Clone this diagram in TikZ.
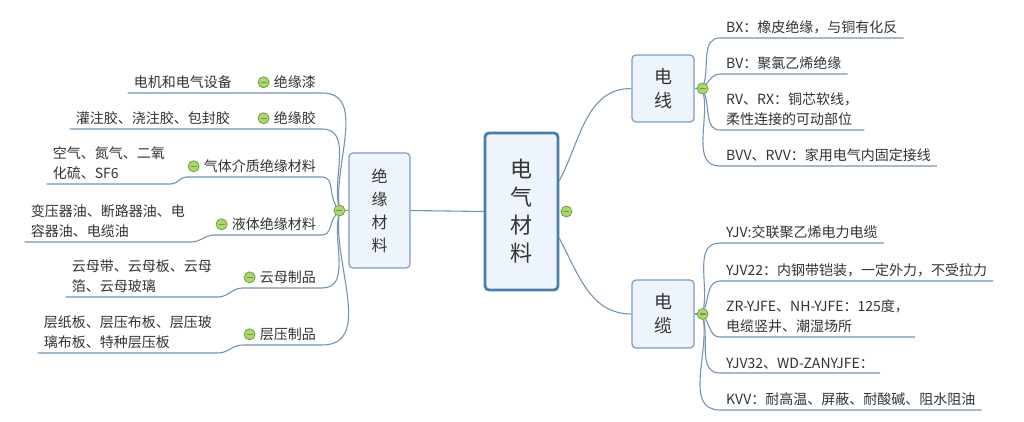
\documentclass[tikz,border=0pt]{standalone}
\usepackage{fontspec}
\setmainfont{Noto Sans CJK SC}
\usetikzlibrary{positioning,calc}
\definecolor{linkblue}{HTML}{7594B4}
\definecolor{frame}{HTML}{4A7EAB}
\definecolor{edge}{HTML}{7D9DC0}
\definecolor{paper}{HTML}{EEF4FB}
\definecolor{ink}{HTML}{333333}
\definecolor{leafgreen}{HTML}{AED573}
\definecolor{darkgreen}{HTML}{6E9F35}

\begin{document}
\begin{tikzpicture}[x=1pt,y=-1pt,
  root/.style={draw=frame,line width=2.8pt,rounded corners=4pt,fill=paper,
    minimum width=73pt,minimum height=157pt,align=center,text=ink,
    font=\fontsize{22}{28}\selectfont},
  topic/.style={draw=edge,line width=1.2pt,rounded corners=4pt,fill=paper,
    align=center,text=ink},
  leaf/.style={text=ink,align=left,inner xsep=6pt,inner ysep=4pt,
    font=\fontsize{14}{20}\selectfont},
  branch/.style={draw=linkblue,line width=1.1pt},
  fold/.style={circle,draw=darkgreen,fill=leafgreen,line width=0.8pt,
    minimum size=11pt,inner sep=0pt,
    path picture={\draw[darkgreen,line width=1.1pt]
      ([xshift=-3pt]path picture bounding box.center) --
      ([xshift=3pt]path picture bounding box.center);}}]
\path[use as bounding box,fill=white] (0,0) rectangle (1024,422);

% main boxes
\node[root] (main) at (521.5,211.5) {电\\气\\材\\料};
\node[topic,minimum width=61pt,minimum height=115pt,
  font=\fontsize{16}{23}\selectfont] (ins) at (379.5,210.5) {绝\\缘\\材\\料};
\node[topic,minimum width=62pt,minimum height=67pt,
  font=\fontsize{18}{24}\selectfont] (wire) at (663,88.5) {电\\线};
\node[topic,minimum width=62pt,minimum height=68pt,
  font=\fontsize{18}{24}\selectfont] (cable) at (663,314) {电\\缆};

\node[fold] (mfold) at ([xshift=7pt]main.east) {};
\node[fold] (ifold) at ([xshift=-9pt]ins.west) {};
\node[fold] (wfold) at ([xshift=8pt]wire.east) {};
\node[fold] (cfold) at ([xshift=8pt]cable.east) {};

\draw[branch] (ins.east) -- (main.west);
\draw[branch] ([yshift=31pt]main.east) to[out=62,in=180] (wire.west);
\draw[branch] ([yshift=-27pt]main.east) to[out=-62,in=180] (cable.west);
\draw[branch] (wire.east) -- (wfold);
\draw[branch] (cable.east) -- (cfold);
\draw[branch] (ins.west) -- (ifold);

% wires
\node[leaf,anchor=south west] (bx) at (720,38) {BX：橡皮绝缘，与铜有化反};
\node[leaf,anchor=south west] (bv) at (720,74) {BV：聚氯乙烯绝缘};
\node[leaf,anchor=south west] (rv) at (720,130) {RV、RX：铜芯软线，\\柔性连接的可动部位};
\node[leaf,anchor=south west] (bvv) at (720,166) {BVV、RVV：家用电气内固定接线};
\draw[branch] (wfold) to[out=75,in=180] (bx.south west) -- (bx.south east);
\draw[branch] (wfold) to[out=50,in=180] (bv.south west) -- (bv.south east);
\draw[branch] (wfold) to[out=-70,in=180] (rv.south west) -- (rv.south east);
\draw[branch] (wfold) to[out=-80,in=180] (bvv.south west) -- (bvv.south east);

% cables
\node[leaf,anchor=south west] (yjv) at (720,243) {YJV:交联聚乙烯电力电缆};
\node[leaf,anchor=south west] (yjva) at (720,281) {YJV22：内钢带铠装，一定外力，不受拉力};
\node[leaf,anchor=south west] (zr) at (720,337) {ZR-YJFE、NH-YJFE：125度，\\电缆竖井、潮湿场所};
\node[leaf,anchor=south west] (yjvb) at (720,373) {YJV32、WD-ZANYJFE：};
\node[leaf,anchor=south west] (kvv) at (720,410) {KVV：耐高温、屏蔽、耐酸碱、阻水阻油};
\draw[branch] (cfold) to[out=80,in=180] (yjv.south west) -- (yjv.south east);
\draw[branch] (cfold) to[out=70,in=180] (yjva.south west) -- (yjva.south east);
\draw[branch] (cfold) to[out=-60,in=180] (zr.south west) -- (zr.south east);
\draw[branch] (cfold) to[out=-78,in=180] (yjvb.south west) -- (yjvb.south east);
\draw[branch] (cfold) to[out=-82,in=180] (kvv.south west) -- (kvv.south east);

% insulation
\node[leaf,anchor=south east] (p1) at (322,93) {绝缘漆};
\node[leaf,anchor=south east] (p2) at (322,129) {绝缘胶};
\node[leaf,anchor=south east] (p3) at (322,177) {气体介质绝缘材料};
\node[leaf,anchor=south east] (p4) at (322,235) {液体绝缘材料};
\node[leaf,anchor=south east] (p5) at (322,288) {云母制品};
\node[leaf,anchor=south east] (p6) at (322,345) {层压制品};
\foreach \i in {1,...,6}{
  \node[fold] (f\i) at ([xshift=-4pt]p\i.west) {};
  \coordinate (u\i) at ($(f\i.center |- p\i.south)+(-7,0)$);
}
\node[leaf,anchor=south east] (c1) at (238,93) {电机和电气设备};
\node[leaf,anchor=south east] (c2) at (236,129) {灌注胶、浇注胶、包封胶};
\node[leaf,anchor=south east] (c3) at (171,184) {空气、氮气、二氧\\化硫、SF6};
\node[leaf,anchor=south east] (c4) at (191,242) {变压器油、断路器油、电\\容器油、电缆油};
\node[leaf,anchor=south east] (c5) at (218,297) {云母带、云母板、云母\\箔、云母玻璃};
\node[leaf,anchor=south east] (c6) at (218,353) {层纸板、层压布板、层压玻\\璃布板、特种层压板};
\foreach \i/\a in {1/95,2/100,3/125,4/-130,5/-100,6/-95}{
  \draw[branch] (c\i.south west) -- (c\i.south east) to[out=0,in=180] (u\i)
    -- (p\i.south east) to[out=0,in=\a] (ifold);
}
\end{tikzpicture}
\end{document}
